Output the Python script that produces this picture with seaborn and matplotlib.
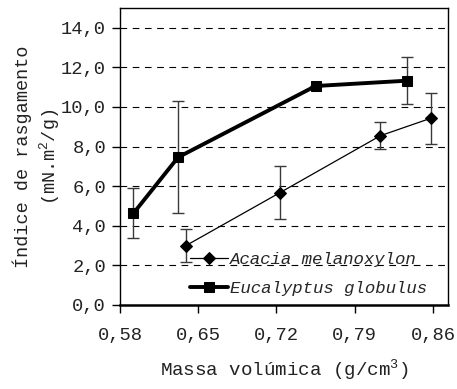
import matplotlib
matplotlib.use("Agg")
import matplotlib.pyplot as plt
import seaborn as sns
import pandas as pd
from matplotlib.ticker import FuncFormatter, FixedLocator

# Data
euc_x = [0.592, 0.632, 0.755, 0.837]
euc_y = [4.63, 7.46, 11.06, 11.33]
euc_err = [1.27, 2.83, 0.0, 1.18]

aca_x = [0.639, 0.723, 0.813, 0.858]
aca_y = [3.00, 5.67, 8.55, 9.43]
aca_err = [0.83, 1.34, 0.68, 1.28]

x_ticks = [0.58, 0.65, 0.72, 0.79, 0.86]
y_ticks = [0, 2, 4, 6, 8, 10, 12, 14]

sns.set_theme(style="white")
plt.rcParams['font.family'] = ['Liberation Mono', 'DejaVu Sans']
plt.rcParams['mathtext.fontset'] = 'custom'
plt.rcParams['mathtext.rm'] = 'Liberation Mono'

fig = plt.figure(figsize=(4.57, 3.89), dpi=100)
ax = fig.add_axes([120/457, 1-305/389, (448-120)/457, (305-8)/389])

df_a = pd.DataFrame({"x": aca_x, "y": aca_y})
df_e = pd.DataFrame({"x": euc_x, "y": euc_y})

ax.errorbar(aca_x, aca_y, yerr=aca_err, fmt='none', ecolor='#3a3a3a',
            elinewidth=1, capsize=4, capthick=1, zorder=3)
ax.errorbar(euc_x, euc_y, yerr=euc_err, fmt='none', ecolor='#3a3a3a',
            elinewidth=1, capsize=4, capthick=1, zorder=3)

sns.lineplot(data=df_a, x="x", y="y", ax=ax, color='black', linewidth=0.9,
             marker='D', markersize=6, markeredgecolor='black',
             label='Acacia melanoxylon', zorder=4)
sns.lineplot(data=df_e, x="x", y="y", ax=ax, color='black', linewidth=2.8,
             marker='s', markersize=7.5, markeredgecolor='black',
             label='Eucalyptus globulus', zorder=4)

ax.set_xlim(0.58, 0.8735)
ax.set_ylim(0, 15)
ax.xaxis.set_major_locator(FixedLocator(x_ticks))
ax.yaxis.set_major_locator(FixedLocator(y_ticks))
ax.xaxis.set_major_formatter(FuncFormatter(lambda v, p: f"{v:.2f}".replace('.', ',')))
ax.yaxis.set_major_formatter(FuncFormatter(lambda v, p: f"{v:.1f}".replace('.', ',')))

for yv in y_ticks[1:]:
    ax.axhline(yv, color='black', linewidth=0.8, linestyle=(0, (6, 5)), zorder=1)

for s in ax.spines.values():
    s.set_color('black')
    s.set_linewidth(1.0)
ax.spines['bottom'].set_linewidth(1.8)

ax.tick_params(axis='both', which='major', direction='out', length=6, width=1,
               color='black', labelsize=13.5, labelcolor='#222222',
               bottom=True, left=True)
ax.tick_params(axis='x', pad=10)
ax.tick_params(axis='y', pad=4)

ax.set_xlabel("Massa volúmica (g/cm$^3$)", fontsize=13.8, labelpad=10, color='#222222')
ax.set_ylabel("Índice de rasgamento\n(mN.m$^2$/g)", fontsize=13.3, labelpad=-1,
              color='#222222', linespacing=1.3)

leg = ax.legend(loc='center left', bbox_to_anchor=((190-120)/328, (305-274)/297),
                frameon=False,
                prop={'family': 'Liberation Mono', 'style': 'italic', 'size': 12.5},
                handlelength=2.2, handletextpad=0.1, borderaxespad=0.0,
                borderpad=0.0, labelspacing=0.75)

fig.savefig("out.png", dpi=100)
